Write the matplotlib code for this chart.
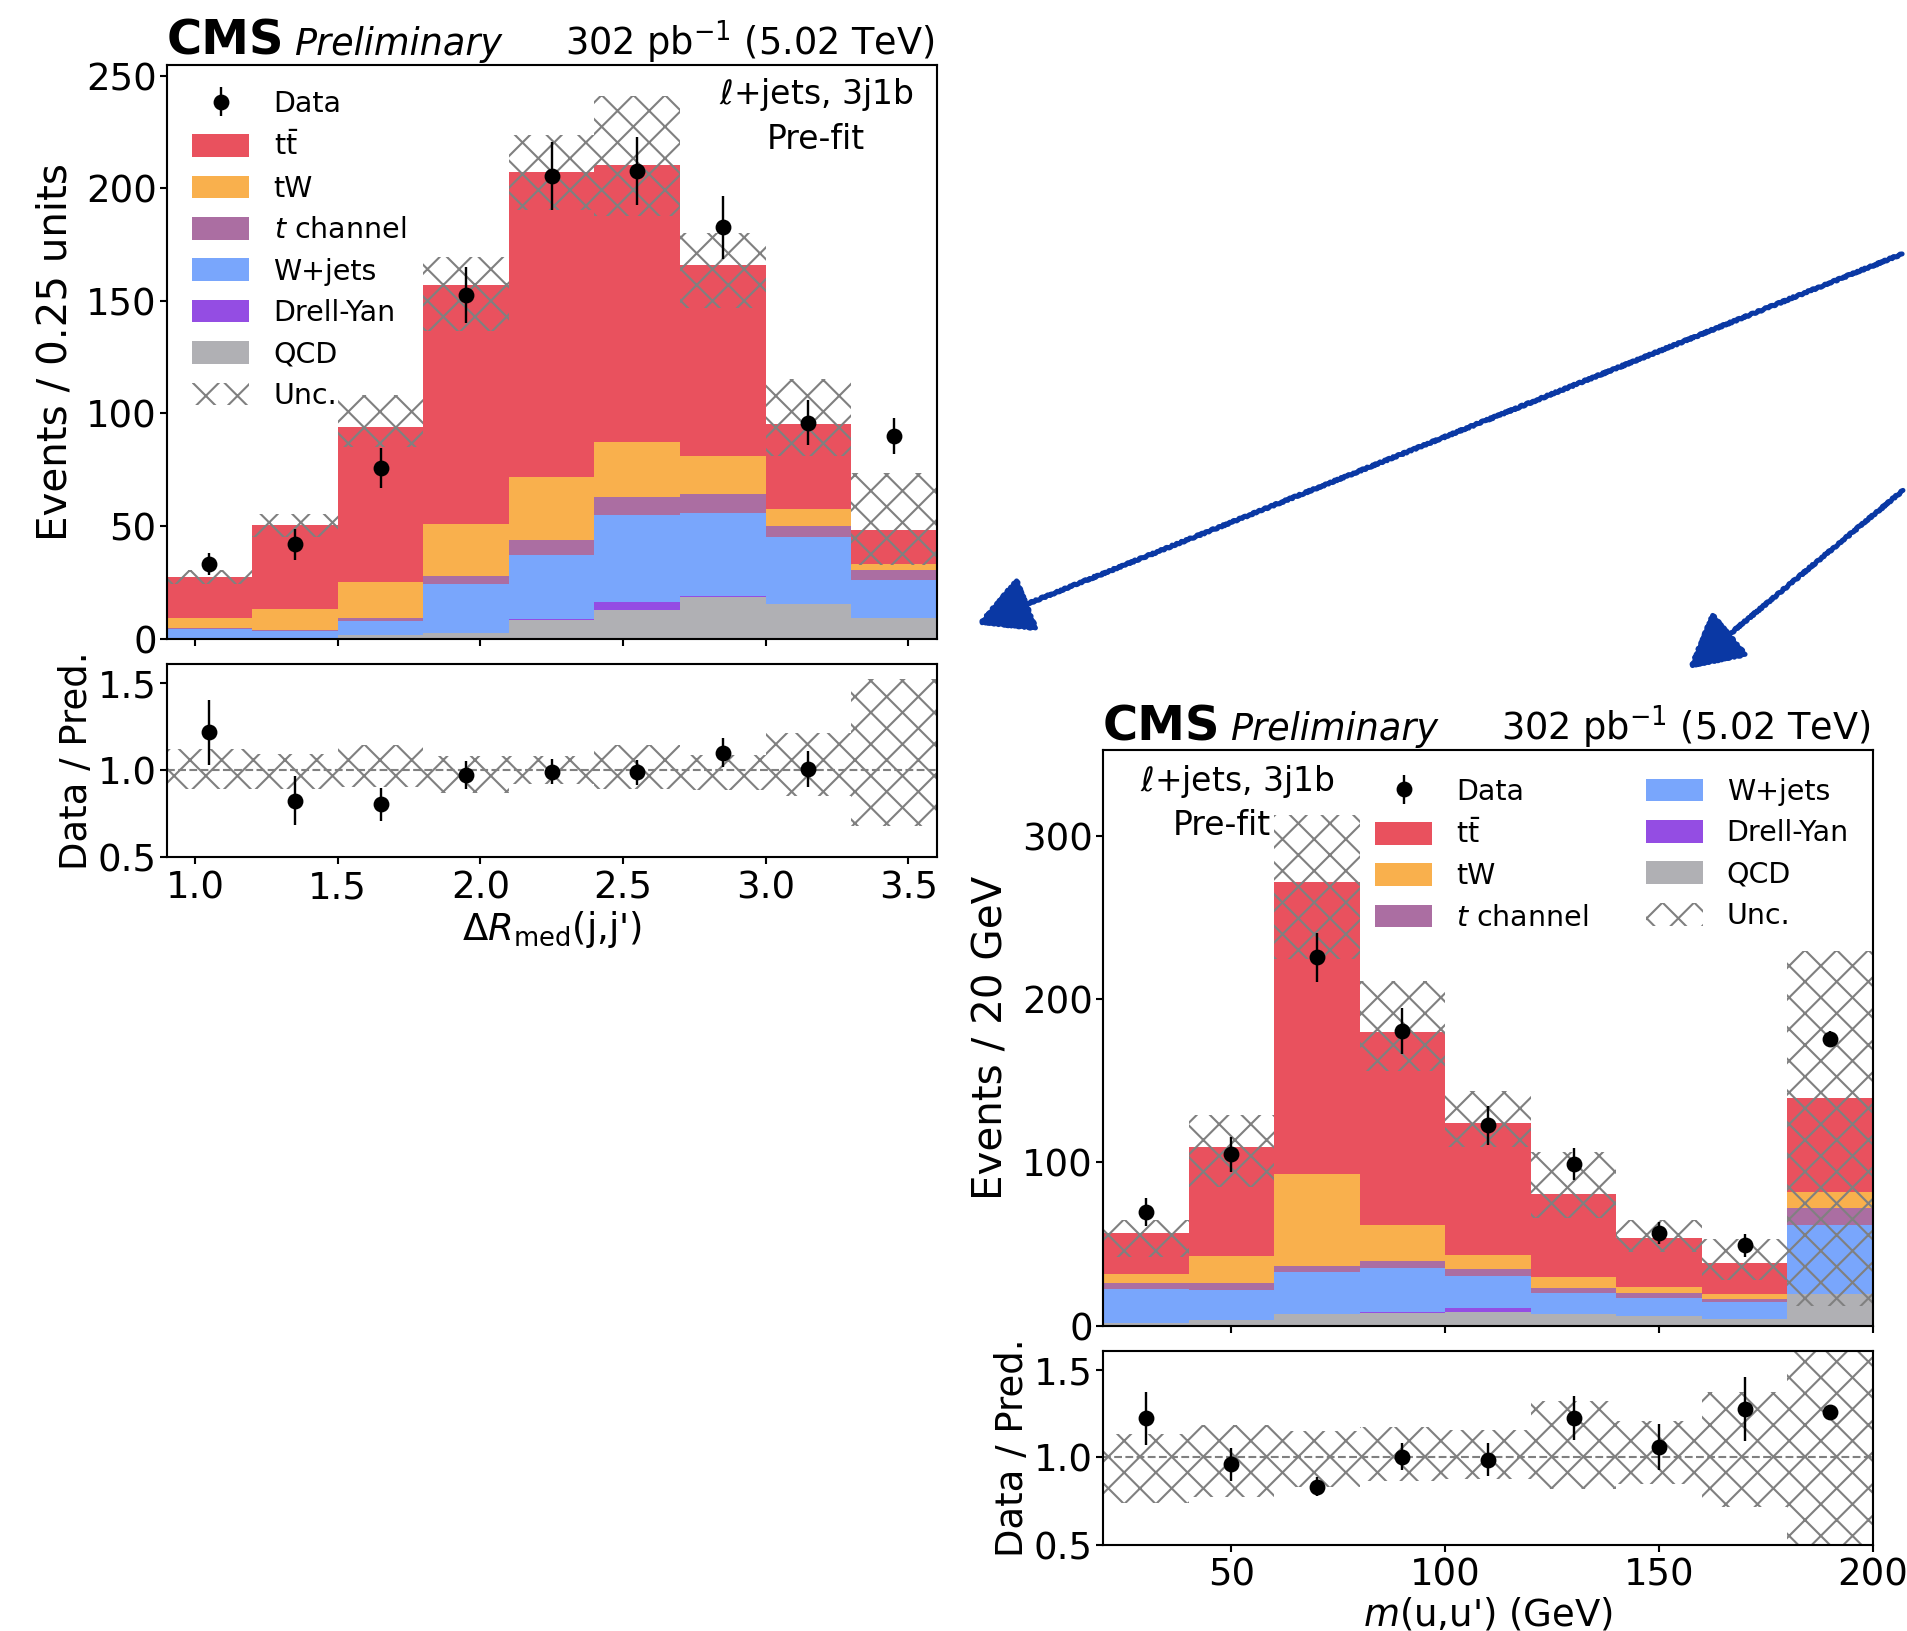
import numpy as np
import matplotlib.pyplot as plt
from matplotlib.patches import Patch, FancyArrowPatch

plt.rcParams['font.family'] = 'DejaVu Sans'
plt.rcParams['mathtext.fontset'] = 'dejavusans'
plt.rcParams['hatch.linewidth'] = 0.8
plt.rcParams['xtick.major.size'] = 2.8
plt.rcParams['ytick.major.size'] = 2.8
plt.rcParams['xtick.major.pad'] = 1.0
plt.rcParams['ytick.major.pad'] = 1.0

# --- dR_med(j,j') distribution
dr_edges = [0.9, 1.2, 1.5, 1.8, 2.1, 2.4, 2.7, 3.0, 3.3, 3.6]
dr_qcd = [0.3, 0.3, 1.5, 2.4, 8.1, 12.9, 18.4, 15.2, 9.0]
dr_dy = [0.0, 0.0, 0.0, 0.0, 0.7, 3.4, 0.3, 0.2, 0.0]
dr_wjets = [4.0, 3.1, 6.4, 21.8, 28.5, 38.8, 37.1, 29.5, 16.8]
dr_tchan = [0.2, 0.5, 1.3, 3.7, 6.3, 8.0, 8.2, 5.3, 4.7]
dr_tw = [4.5, 9.4, 16.1, 23.0, 28.1, 24.4, 16.9, 7.5, 2.8]
dr_ttbar = [18.2, 37.3, 68.9, 106.0, 135.4, 122.8, 85.0, 37.6, 15.0]
dr_unc_up = [30.5, 55.2, 108.0, 169.5, 223.8, 241.0, 180.3, 115.5, 73.6]
dr_unc_dn = [24.3, 45.3, 85.0, 136.7, 190.6, 187.6, 147.0, 81.0, 32.8]
dr_data = [33.1, 41.8, 75.8, 152.6, 205.6, 207.7, 182.8, 95.9, 89.9]
dr_data_err = [5.0, 7.0, 9.0, 12.5, 15.0, 15.0, 14.0, 10.0, 8.0]

# --- m(u,u') distribution
m_edges = [20, 40, 60, 80, 100, 120, 140, 160, 180, 200]
m_qcd = [1.8, 3.6, 7.0, 7.8, 8.3, 7.0, 5.7, 3.9, 19.2]
m_dy = [0.0, 0.0, 0.0, 0.5, 2.6, 0.3, 0.0, 0.0, 0.0]
m_wjets = [20.7, 18.4, 25.9, 26.7, 19.4, 12.7, 11.3, 10.3, 42.2]
m_tchan = [3.4, 3.9, 3.9, 4.6, 4.2, 3.3, 2.7, 1.8, 10.6]
m_tw = [5.7, 16.8, 55.9, 22.1, 9.0, 6.2, 4.1, 3.4, 10.1]
m_ttbar = [25.4, 66.6, 179.1, 118.3, 80.9, 51.3, 29.8, 19.2, 57.5]
m_unc_up = [64.5, 129.3, 313.0, 211.0, 143.8, 106.7, 64.8, 53.1, 229.8]
m_unc_dn = [42.0, 84.7, 225.0, 156.0, 109.3, 66.0, 45.3, 27.7, 11.7]
m_data = [69.7, 104.9, 225.9, 180.6, 122.8, 99.0, 56.7, 49.3, 175.9]
m_data_err = [8.8, 10.5, 15.0, 14.0, 12.0, 10.0, 7.0, 7.0, 5.0]

proc_labels = ['QCD', 'Drell-Yan', 'W+jets', r'$t$ channel', 'tW', r't$\bar{\mathrm{t}}$']
proc_colors = ['#9c9ca1', '#7a21dd', '#5790fc', '#964a8b', '#f89c20', '#e42536']

C_ARROW = '#0a38a4'
HATCH = 'xx'
MS = 5
TICK_FS = 14


def draw_panel(ax, rax, edges, stack, unc_up, unc_dn, data, data_err,
               ylim, yticks, xticks, xlabel, ylabel, leg_kw, txt_xy, prefit_dx=0.0):
    edges = np.array(edges)
    centers = 0.5 * (edges[1:] + edges[:-1])
    width = np.diff(edges)
    bottom = np.zeros(len(centers))
    for vals, col in zip(stack, proc_colors):
        ax.bar(centers, vals, width=width, bottom=bottom, color=col, alpha=0.8,
               linewidth=0, align='center')
        bottom = bottom + np.array(vals)
    total = bottom
    up = np.array(unc_up)
    dn = np.array(unc_dn)
    ax.bar(centers, up - dn, width=width, bottom=dn, fill=False, hatch=HATCH,
           edgecolor='gray', linewidth=0)
    ax.errorbar(centers, data, yerr=data_err, fmt='o', color='k', ms=MS,
                elinewidth=0.9, capsize=0)

    ax.set_xlim(edges[0], edges[-1])
    ax.set_ylim(*ylim)
    ax.set_yticks(yticks)
    ax.set_xticks(xticks)
    ax.tick_params(labelbottom=False, labelsize=TICK_FS)
    ax.set_ylabel(ylabel, fontsize=15.3)

    handles = [ax.errorbar([], [], yerr=[], fmt='o', color='k', ms=MS, elinewidth=0.9)]
    labels = ['Data']
    for lab, col in list(zip(proc_labels, proc_colors))[::-1]:
        handles.append(Patch(facecolor=col, alpha=0.8, linewidth=0))
        labels.append(lab)
    handles.append(Patch(fill=False, hatch=HATCH, edgecolor='gray', linewidth=0))
    labels.append('Unc.')
    ax.legend(handles, labels, frameon=False, fontsize=10.8, handlelength=2.0,
              handleheight=0.85, handletextpad=0.85, **leg_kw)

    ax.text(txt_xy[0], txt_xy[1], r'$\ell$+jets, 3j1b', transform=ax.transAxes,
            ha='center', va='top', fontsize=12.5)
    ax.text(txt_xy[0] + prefit_dx, txt_xy[1] - 0.081, 'Pre-fit', transform=ax.transAxes,
            ha='center', va='top', fontsize=12.5)

    # CMS label and lumi
    ax.text(0.0, 1.017, 'CMS', transform=ax.transAxes, fontsize=18.2,
            fontweight='bold', ha='left', va='baseline')
    ax.text(0.165, 1.017, 'Preliminary', transform=ax.transAxes, fontsize=13.9,
            fontstyle='italic', ha='left', va='baseline')
    ax.text(0.997, 1.017, r'302 pb$^{-1}$ (5.02 TeV)', transform=ax.transAxes,
            fontsize=13.9, ha='right', va='baseline')

    # ratio panel
    rax.bar(centers, (up - dn) / total, width=width, bottom=dn / total, fill=False,
            hatch=HATCH, edgecolor='gray', linewidth=0)
    rax.axhline(1.0, color='gray', ls='--', lw=0.8)
    rax.errorbar(centers, np.array(data) / total, yerr=np.array(data_err) / total,
                 fmt='o', color='k', ms=MS, elinewidth=0.9, capsize=0)
    rax.set_xlim(edges[0], edges[-1])
    rax.set_ylim(0.5, 1.61)
    rax.set_yticks([0.5, 1.0, 1.5])
    rax.set_xticks(xticks)
    rax.tick_params(labelsize=TICK_FS)
    rax.tick_params(axis='x', pad=1.7)
    rax.set_xlabel(xlabel, fontsize=14, labelpad=1)
    rax.set_ylabel('Data / Pred.', fontsize=14, labelpad=1)


fig = plt.figure(figsize=(1907 / 190, 1631 / 190), dpi=190)

ax1 = fig.add_axes([0.0874, 0.6085, 0.4038, 0.3519])
rax1 = fig.add_axes([0.0874, 0.4743, 0.4038, 0.1186])
ax2 = fig.add_axes([0.5784, 0.1873, 0.4038, 0.3529])
rax2 = fig.add_axes([0.5784, 0.0530, 0.4038, 0.1187])

draw_panel(ax1, rax1, dr_edges,
           [dr_qcd, dr_dy, dr_wjets, dr_tchan, dr_tw, dr_ttbar],
           dr_unc_up, dr_unc_dn, dr_data, dr_data_err,
           (0, 255), [0, 50, 100, 150, 200, 250], [1.0, 1.5, 2.0, 2.5, 3.0, 3.5],
           r"$\Delta R_{\mathrm{med}}$(j,j')", 'Events / 0.25 units',
           dict(loc='upper left', bbox_to_anchor=(0.0, 1.0), labelspacing=0.47),
           (0.843, 0.98))

draw_panel(ax2, rax2, m_edges,
           [m_qcd, m_dy, m_wjets, m_tchan, m_tw, m_ttbar],
           m_unc_up, m_unc_dn, m_data, m_data_err,
           (0, 353), [0, 100, 200, 300], [50, 100, 150, 200],
           r"$m$(u,u') (GeV)", 'Events / 20 GeV',
           dict(loc='upper left', bbox_to_anchor=(0.32, 0.996), ncol=2, labelspacing=0.47,
                columnspacing=2.0),
           (0.174, 0.978), prefit_dx=-0.02)

# hand-drawn looking arrows coming in from the right edge
for start, tip in [((1.0, 0.8455), (0.5097, 0.6162)), ((1.0, 0.7014), (0.8831, 0.588))]:
    arr = FancyArrowPatch(start, tip, transform=fig.transFigure,
                          arrowstyle='-|>,head_length=1.5,head_width=0.8',
                          mutation_scale=12, color=C_ARROW, lw=1.9)
    arr.set_sketch_params(scale=0.8, length=6, randomness=3)
    fig.add_artist(arr)
    # second faint stroke for the pencil look
    arr2 = FancyArrowPatch(start, tip, transform=fig.transFigure, arrowstyle='-',
                           color=C_ARROW, lw=0.7, alpha=0.8, shrinkB=20)
    arr2.set_sketch_params(scale=1.5, length=12, randomness=4)
    fig.add_artist(arr2)

fig.savefig('out.png', dpi=190)
